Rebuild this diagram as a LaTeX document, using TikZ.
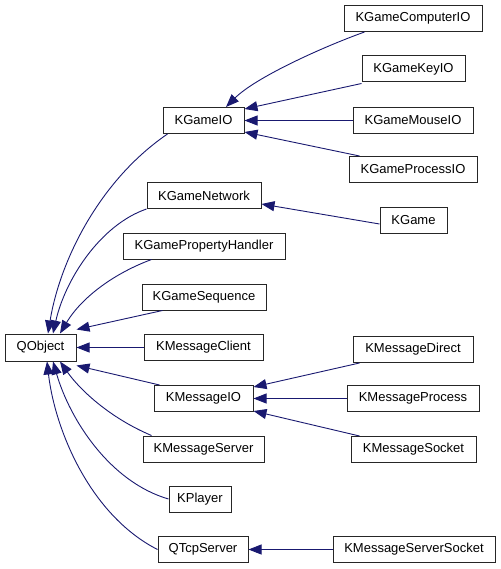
\documentclass[tikz,border=0pt]{standalone}
\usepackage{fontspec}
\setmainfont{Liberation Sans}
\usetikzlibrary{arrows.meta,calc}
\definecolor{edgeblue}{rgb}{0.098,0.098,0.439}
\begin{document}
\begin{tikzpicture}[x=1pt,y=-1pt,
  box/.style={draw=black!85,line width=1pt,fill=white,inner sep=0pt,minimum height=26pt,
    font=\fontsize{13}{15}\selectfont,text=black},
  edge/.style={draw=edgeblue,line width=0.9pt,-{Triangle[length=13pt,width=10pt,fill=edgeblue]}}]
\useasboundingbox (0,0) rectangle (500,569);
% nodes
\node[box,minimum width=71pt,minimum height=27pt] (QObject) at (40.5,347.5) {QObject};
\node[box,minimum width=81pt] (KGameIO) at (203.5,120.5) {KGameIO};
\node[box,minimum width=114pt] (KGameNetwork) at (204,195.5) {KGameNetwork};
\node[box,minimum width=162pt] (KGamePropertyHandler) at (204,246) {KGamePropertyHandler};
\node[box,minimum width=124pt] (KGameSequence) at (204,297) {KGameSequence};
\node[box,minimum width=119pt] (KMessageClient) at (203.5,347.5) {KMessageClient};
\node[box,minimum width=99pt] (KMessageIO) at (203.5,398.5) {KMessageIO};
\node[box,minimum width=121pt] (KMessageServer) at (203.5,449) {KMessageServer};
\node[box,minimum width=62pt] (KPlayer) at (200,499) {KPlayer};
\node[box,minimum width=90pt] (QTcpServer) at (203,549.5) {QTcpServer};
\node[box,minimum width=138pt] (KGameComputerIO) at (413,18.5) {KGameComputerIO};
\node[box,minimum width=103pt] (KGameKeyIO) at (413.5,69) {KGameKeyIO};
\node[box,minimum width=120pt] (KGameMouseIO) at (413,120.5) {KGameMouseIO};
\node[box,minimum width=128pt] (KGameProcessIO) at (413,169.5) {KGameProcessIO};
\node[box,minimum width=67pt] (KGame) at (413.5,220.5) {KGame};
\node[box,minimum width=120pt] (KMessageDirect) at (413,349.5) {KMessageDirect};
\node[box,minimum width=132pt] (KMessageProcess) at (413,398.5) {KMessageProcess};
\node[box,minimum width=125pt] (KMessageSocket) at (413.5,449.5) {KMessageSocket};
\node[box,minimum width=162pt] (KMessageServerSocket) at (414,549.5) {KMessageServerSocket};
% edges into QObject
\draw[edge] ([xshift=5pt]KGameIO.south west) .. controls (100,180) and (60,260) .. ([xshift=7.5pt]QObject.north);
\draw[edge] (KGameNetwork.south west) .. controls (100,225) and (65,280) .. ([xshift=12.5pt]QObject.north);
\draw[edge] ([xshift=29pt]KGamePropertyHandler.south west) .. controls (110,275) and (80,300) .. ([xshift=19.5pt]QObject.north);
\draw[edge] ([xshift=21pt]KGameSequence.south west) -- ([yshift=4pt]QObject.north east);
\draw[edge] (KMessageClient.west) -- (QObject.east);
\draw[edge] ([xshift=6pt]KMessageIO.north west) -- ([yshift=-4pt]QObject.south east);
\draw[edge] ([xshift=9pt]KMessageServer.north west) .. controls (110,418) and (80,390) .. ([xshift=19.5pt]QObject.south);
\draw[edge] (KPlayer.west) .. controls (110,482) and (70,420) .. ([xshift=12.5pt]QObject.south);
\draw[edge] (QTcpServer.west) .. controls (90,515) and (55,430) .. ([xshift=6.5pt]QObject.south);
% edges into KGameIO
\draw[edge] ([xshift=21pt]KGameComputerIO.south west) .. controls (320,48) and (255,78) .. ([xshift=-18.5pt]KGameIO.north east);
\draw[edge] ([yshift=-1pt]KGameKeyIO.south west) -- ([yshift=-2pt]KGameIO.north east);
\draw[edge] (KGameMouseIO.west) -- (KGameIO.east);
\draw[edge] ([xshift=11pt]KGameProcessIO.north west) -- ([yshift=2pt]KGameIO.south east);
% KGameNetwork
\draw[edge] ([yshift=-3.5pt]KGame.west) -- ([yshift=-8.5pt]KGameNetwork.east);
% edges into KMessageIO
\draw[edge] ([xshift=7pt]KMessageDirect.south west) -- ([yshift=-2pt]KMessageIO.north east);
\draw[edge] (KMessageProcess.west) -- (KMessageIO.east);
\draw[edge] ([xshift=9pt]KMessageSocket.north west) -- ([yshift=1pt]KMessageIO.south east);
% QTcpServer
\draw[edge] (KMessageServerSocket.west) -- (QTcpServer.east);
\end{tikzpicture}
\end{document}
